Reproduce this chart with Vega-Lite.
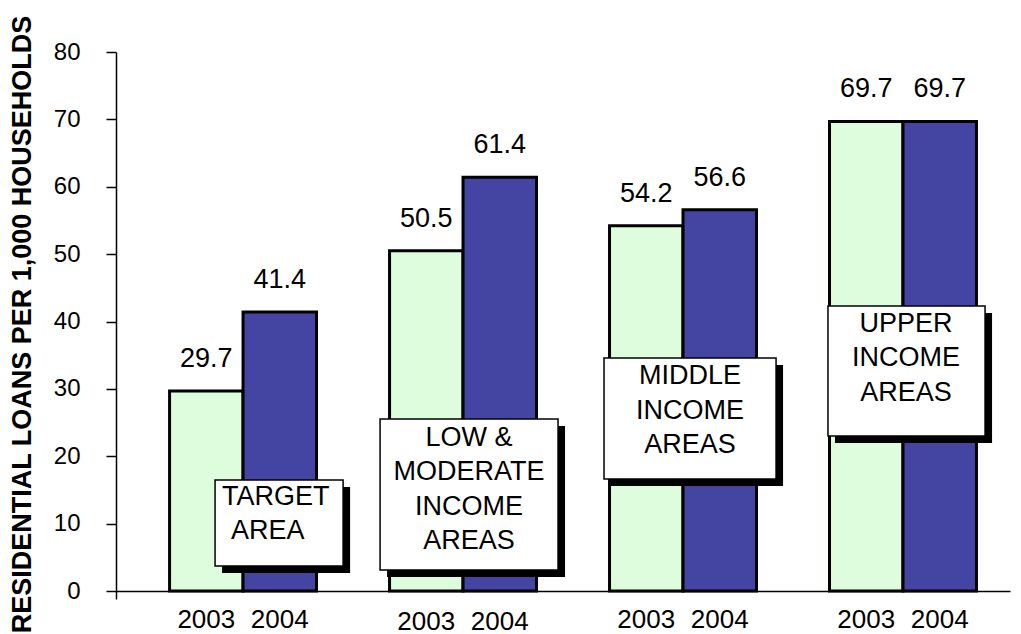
{
  "$schema": "https://vega.github.io/schema/vega-lite/v6.json",
  "width": 894,
  "height": 539,
  "autosize": {"type": "none"},
  "padding": {"left": 116, "top": 52, "right": 11, "bottom": 43},
  "background": "white",
  "config": {
    "font": "Liberation Sans",
    "view": {"stroke": null},
    "text": {"font": "Liberation Sans", "color": "black"}
  },
  "datasets": {
    "loans": [
      {"area": "Target Area", "year": "2003", "loans": 29.7},
      {"area": "Target Area", "year": "2004", "loans": 41.4},
      {"area": "Low & Moderate Income Areas", "year": "2003", "loans": 50.5},
      {"area": "Low & Moderate Income Areas", "year": "2004", "loans": 61.4},
      {"area": "Middle Income Areas", "year": "2003", "loans": 54.2},
      {"area": "Middle Income Areas", "year": "2004", "loans": 56.6},
      {"area": "Upper Income Areas", "year": "2003", "loans": 69.7},
      {"area": "Upper Income Areas", "year": "2004", "loans": 69.7}
    ]
  },
  "encoding": {
    "y": {
      "type": "quantitative",
      "scale": {"domain": [0, 80], "nice": false, "zero": true},
      "axis": {
        "values": [0, 10, 20, 30, 40, 50, 60, 70, 80],
        "grid": false,
        "domainColor": "black",
        "domainWidth": 1.5,
        "tickColor": "black",
        "tickWidth": 1.5,
        "tickSize": 10,
        "labelFontSize": 24,
        "labelColor": "black",
        "labelPadding": 26,
        "title": "RESIDENTIAL LOANS PER 1,000 HOUSEHOLDS",
        "titleFontSize": 27,
        "titleFontWeight": "bold",
        "titleColor": "black",
        "titlePadding": 17,
        "titleY": 272
      }
    }
  },
  "layer": [
    {
      "data": {"name": "loans"},
      "encoding": {
        "x": {
          "field": "area",
          "type": "nominal",
          "sort": null,
          "scale": {"paddingInner": 0.332, "paddingOuter": 0.198, "align": 0.615},
          "axis": null
        },
        "xOffset": {"field": "year", "type": "nominal", "scale": {"paddingInner": 0, "paddingOuter": 0}}
      },
      "layer": [
        {
          "mark": {"type": "bar", "stroke": "black", "strokeWidth": 3},
          "encoding": {
            "y": {"field": "loans"},
            "color": {
              "field": "year",
              "type": "nominal",
              "scale": {"domain": ["2003", "2004"], "range": ["#DDFDDD", "#4444A3"]},
              "legend": null
            }
          }
        },
        {
          "mark": {"type": "text", "fontSize": 27, "baseline": "alphabetic", "dy": -24},
          "encoding": {
            "y": {"field": "loans"},
            "text": {"field": "loans", "type": "quantitative", "format": ".1f"}
          }
        },
        {
          "transform": [{"filter": "datum.area !== 'Low & Moderate Income Areas'"}],
          "mark": {"type": "text", "fontSize": 26, "baseline": "alphabetic", "dy": 37},
          "encoding": {
            "y": {"datum": 0},
            "text": {"field": "year"}
          }
        },
        {
          "transform": [{"filter": "datum.area === 'Low & Moderate Income Areas'"}],
          "mark": {"type": "text", "fontSize": 26, "baseline": "alphabetic", "dy": 38.5},
          "encoding": {
            "y": {"datum": 0},
            "text": {"field": "year"}
          }
        }
      ]
    },
    {
      "data": {"values": [{}]},
      "encoding": {
        "x": {
          "type": "quantitative",
          "scale": {"domain": [-0.5773, 3.4864], "nice": false, "zero": false},
          "axis": {
            "values": [-0.5773],
            "labels": false,
            "title": null,
            "grid": false,
            "domainColor": "black",
            "domainWidth": 1.5,
            "tickColor": "black",
            "tickWidth": 1.5,
            "tickSize": 8
          }
        }
      },
      "layer": [
        {
          "mark": {"type": "rect", "fill": "black", "xOffset": 7, "x2Offset": 7, "yOffset": 7, "y2Offset": 7},
          "encoding": {"x": {"datum": -0.127}, "x2": {"datum": 0.455}, "y": {"datum": 16.47}, "y2": {"datum": 3.71}}
        },
        {
          "mark": {"type": "rect", "fill": "white", "stroke": "black", "strokeWidth": 1.5},
          "encoding": {"x": {"datum": -0.127}, "x2": {"datum": 0.455}, "y": {"datum": 16.47}, "y2": {"datum": 3.71}}
        },
        {
          "mark": {"type": "text", "fontSize": 27, "align": "left", "baseline": "middle", "text": "TARGET"},
          "encoding": {"x": {"datum": -0.095}, "y": {"datum": 13.95}}
        },
        {
          "mark": {"type": "text", "fontSize": 27, "align": "left", "baseline": "middle", "text": "AREA"},
          "encoding": {"x": {"datum": -0.0545}, "y": {"datum": 8.905}}
        },
        {
          "mark": {"type": "rect", "fill": "black", "xOffset": 7, "x2Offset": 7, "yOffset": 7, "y2Offset": 7},
          "encoding": {"x": {"datum": 0.623}, "x2": {"datum": 1.432}, "y": {"datum": 25.53}, "y2": {"datum": 3.12}}
        },
        {
          "mark": {"type": "rect", "fill": "white", "stroke": "black", "strokeWidth": 1.5},
          "encoding": {"x": {"datum": 0.623}, "x2": {"datum": 1.432}, "y": {"datum": 25.53}, "y2": {"datum": 3.12}}
        },
        {
          "mark": {"type": "text", "fontSize": 27, "align": "center", "baseline": "middle", "lineHeight": 34.5, "text": ["LOW &", "MODERATE", "INCOME", "AREAS"]},
          "encoding": {"x": {"datum": 1.027}, "y": {"datum": 22.71}}
        },
        {
          "mark": {"type": "rect", "fill": "black", "xOffset": 7, "x2Offset": 7, "yOffset": 7, "y2Offset": 7},
          "encoding": {"x": {"datum": 1.641}, "x2": {"datum": 2.423}, "y": {"datum": 34.58}, "y2": {"datum": 16.62}}
        },
        {
          "mark": {"type": "rect", "fill": "white", "stroke": "black", "strokeWidth": 1.5},
          "encoding": {"x": {"datum": 1.641}, "x2": {"datum": 2.423}, "y": {"datum": 34.58}, "y2": {"datum": 16.62}}
        },
        {
          "mark": {"type": "text", "fontSize": 27, "align": "center", "baseline": "middle", "lineHeight": 34.5, "text": ["MIDDLE", "INCOME", "AREAS"]},
          "encoding": {"x": {"datum": 2.032}, "y": {"datum": 31.91}}
        },
        {
          "mark": {"type": "rect", "fill": "black", "xOffset": 7, "x2Offset": 7, "yOffset": 7, "y2Offset": 7},
          "encoding": {"x": {"datum": 2.659}, "x2": {"datum": 3.373}, "y": {"datum": 42.3}, "y2": {"datum": 23.0}}
        },
        {
          "mark": {"type": "rect", "fill": "white", "stroke": "black", "strokeWidth": 1.5},
          "encoding": {"x": {"datum": 2.659}, "x2": {"datum": 3.373}, "y": {"datum": 42.3}, "y2": {"datum": 23.0}}
        },
        {
          "mark": {"type": "text", "fontSize": 27, "align": "center", "baseline": "middle", "lineHeight": 34.5, "text": ["UPPER", "INCOME", "AREAS"]},
          "encoding": {"x": {"datum": 3.014}, "y": {"datum": 39.63}}
        }
      ]
    }
  ],
  "resolve": {"scale": {"x": "independent"}}
}
